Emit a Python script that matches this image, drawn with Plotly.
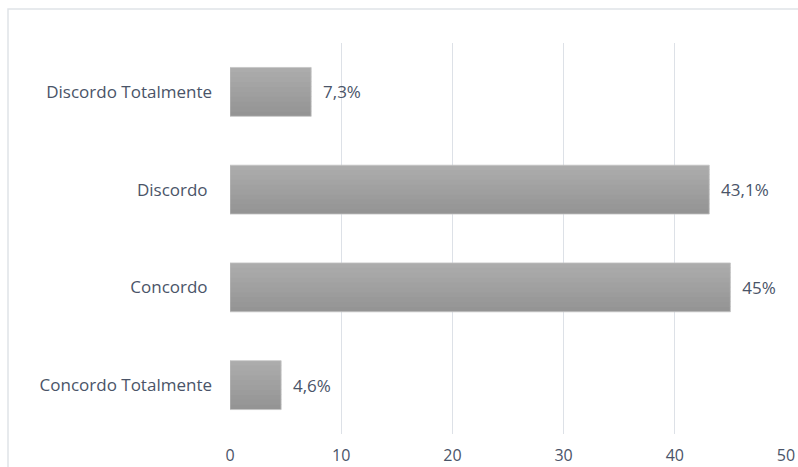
import plotly.graph_objects as go

# Survey responses (percentage of respondents), listed bottom to top
categories = ["Concordo Totalmente", "Concordo ", "Discordo ", "Discordo Totalmente"]
values = [4.6, 45, 43.1, 7.3]
x_ticks = [0, 10, 20, 30, 40, 50]

def pct_label(v):
    s = f"{v:g}".replace(".", ",")
    return f"  {s}%"

labels = [pct_label(v) for v in values]

FONT = "'Open Sans', Lato, sans-serif"
FONT_SIZE = 17
TEXT_COLOR = "#4a5468"
GRID = "#dde1e7"

fig = go.Figure()

# Vertical shading: each bar is built from thin horizontal strips,
# darker at the bottom and lighter at the top.
bar_width = 0.5
n_strips = 10
dark = (148, 148, 148)
light = (172, 172, 172)
strip = bar_width / n_strips
for i in range(n_strips):
    t = i / (n_strips - 1)
    c = tuple(round(d + (l - d) * t) for d, l in zip(dark, light))
    last = i == n_strips - 1
    fig.add_trace(go.Bar(
        y=categories,
        x=values,
        orientation="h",
        width=strip * (1.0 if last else 1.15),
        offset=-bar_width / 2 + i * strip,
        marker=dict(color=f"rgb{c}", line=dict(width=0)),
        textposition="none",
        hoverinfo="skip",
        showlegend=False,
    ))

# Bar outline and value labels to the right of each bar
fig.add_trace(go.Bar(
    y=categories,
    x=values,
    orientation="h",
    width=bar_width,
    marker=dict(color="rgba(0,0,0,0)", line=dict(width=0.8, color="#c4c4c4")),
    text=labels,
    textposition="outside",
    textfont=dict(family=FONT, size=FONT_SIZE, color=TEXT_COLOR),
    cliponaxis=False,
    showlegend=False,
))

fig.update_layout(
    width=798,
    height=467,
    margin=dict(l=230, r=12, t=43, b=33),
    paper_bgcolor="white",
    plot_bgcolor="white",
    barmode="overlay",
    font=dict(family=FONT, size=FONT_SIZE, color=TEXT_COLOR),
    xaxis=dict(
        range=[0, 50],
        tickvals=x_ticks,
        ticktext=[str(v) for v in x_ticks],
        tickfont=dict(size=16),
        showgrid=True,
        gridcolor=GRID,
        gridwidth=1,
        zeroline=False,
        showline=False,
        ticks="",
        ticklabelstandoff=10,
        automargin=False,
        fixedrange=True,
    ),
    yaxis=dict(
        categoryorder="array",
        categoryarray=categories,
        showgrid=False,
        zeroline=False,
        showline=False,
        ticks="",
        ticklabelstandoff=17,
        automargin=False,
        fixedrange=True,
    ),
    shapes=[
        dict(
            type="rect", xref="paper", yref="paper",
            x0=-222 / 556, x1=1.05, y0=-0.2, y1=(434 - 9) / 391,
            line=dict(color="#dfe3e8", width=1.5),
            fillcolor="rgba(0,0,0,0)",
            layer="below",
        )
    ],
)

fig.write_html("out.html")
